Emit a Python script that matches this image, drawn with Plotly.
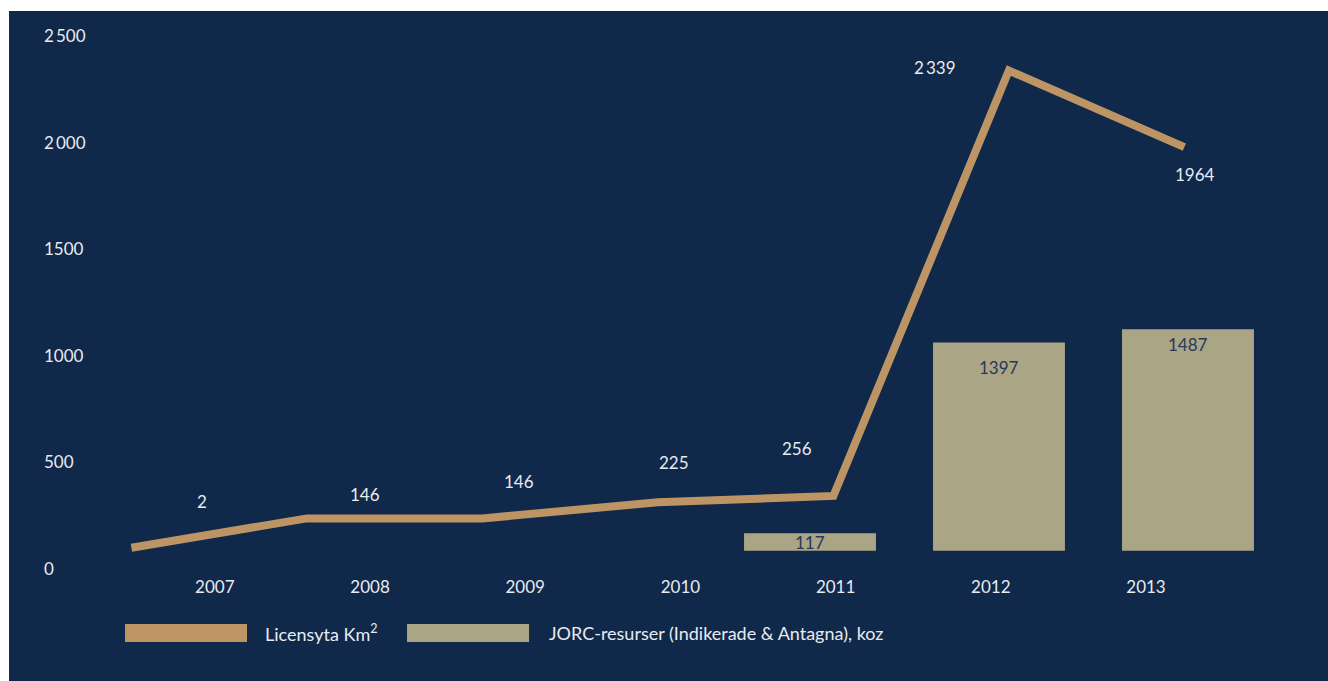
import plotly.graph_objects as go

# ---- data ----
years = [2007, 2008, 2009, 2010, 2011, 2012, 2013]
year_labels = ["2007", "2008", "2009", "2010", "2011", "2012", "2013"]
licens_km2 = [2, 146, 146, 225, 256, 2339, 1964]
licens_labels = ["2", "146", "146", "225", "256", "2\u2009339", "1964"]
jorc_years = [2011, 2012, 2013]
jorc_koz = [117, 1397, 1487]
jorc_labels = ["117", "1397", "1487"]
y_ticks = [0, 500, 1000, 1500, 2000, 2500]
y_tick_labels = ["0", "500", "1000", "1500", "2\u2009000", "2\u2009500"]

# ---- style ----
NAVY = "#10284a"
GOLD = "#bd9565"
KHAKI = "#aaa585"
TXT = "#e8ebf0"
BARTXT = "#26395a"
FONT = "Lato"

line_label_shift = [(71, 46), (58, 24), (37, 37), (16, 40), (-36, 47), (-74, 3), (11, -27)]
bar_label_shift = [-9, -25, -15]

fig = go.Figure()

# empty trace that only registers the visible tick axes (x, y)
fig.add_trace(go.Scatter(x=[], y=[], xaxis="x", yaxis="y", showlegend=False, hoverinfo="skip"))

fig.add_trace(go.Bar(
    x=jorc_years, y=jorc_koz, xaxis="x3", yaxis="y3",
    width=0.698, marker=dict(color=KHAKI, line=dict(width=0)),
    name="JORC-resurser (Indikerade & Antagna), koz", hoverinfo="x+y",
))
fig.add_trace(go.Scatter(
    x=years, y=licens_km2, xaxis="x2", yaxis="y2", mode="lines",
    line=dict(color=GOLD, width=8), name="Licensyta Km²", hoverinfo="x+y",
))

annotations = []
for yr, v, lab, (dx, dy) in zip(years, licens_km2, licens_labels, line_label_shift):
    annotations.append(dict(x=yr, y=v, xref="x2", yref="y2", text=lab, showarrow=False,
                            xshift=dx, yshift=dy, font=dict(family=FONT, size=17, color=TXT)))
for yr, v, lab, dy in zip(jorc_years, jorc_koz, jorc_labels, bar_label_shift):
    annotations.append(dict(x=yr, y=v, xref="x3", yref="y3", text=lab, showarrow=False,
                            yshift=dy, font=dict(family=FONT, size=17, color=BARTXT)))

# legend drawn as swatches + text
annotations.append(dict(x=0.1813, y=-0.1045, xref="paper", yref="paper", xanchor="left",
                        yanchor="middle", showarrow=False, text="Licensyta Km<sup>2</sup>",
                        font=dict(family=FONT, size=18, color=TXT)))
annotations.append(dict(x=0.4122, y=-0.1045, xref="paper", yref="paper", xanchor="left",
                        yanchor="middle", showarrow=False,
                        text="JORC-resurser (Indikerade &amp; Antagna), koz",
                        font=dict(family=FONT, size=18, color=TXT)))

shapes = [
    dict(type="rect", xref="paper", yref="paper", x0=-0.0252, x1=1.07, y0=-0.2, y1=1.0162,
         fillcolor=NAVY, line=dict(width=0), layer="below"),
    dict(type="rect", xref="paper", yref="paper", x0=0.0691, x1=0.1683, y0=-0.1207, y1=-0.0883,
         fillcolor=GOLD, line=dict(width=0), layer="above"),
    dict(type="rect", xref="paper", yref="paper", x0=0.2984, x1=0.3976, y0=-0.1207, y1=-0.0883,
         fillcolor=KHAKI, line=dict(width=0), layer="above"),
]

hidden = dict(visible=False, showgrid=False, zeroline=False, fixedrange=True)

fig.update_layout(
    width=1328, height=681,
    margin=dict(l=40, r=58, t=20, b=106, autoexpand=False),
    paper_bgcolor="white", plot_bgcolor="rgba(0,0,0,0)",
    showlegend=False,
    font=dict(family=FONT, size=17, color=TXT),
    xaxis=dict(domain=[0.06504, 1], anchor="y", range=[2006.389, 2013.799],
               tickvals=years, ticktext=year_labels, showgrid=False, zeroline=False,
               showline=False, ticks="", tickfont=dict(family=FONT, size=17, color=TXT)),
    yaxis=dict(anchor="free", position=0, side="right", range=[-28.2, 2577.4],
               tickvals=y_ticks, ticktext=y_tick_labels, showgrid=False, zeroline=False,
               showline=False, ticks="", ticklabelstandoff=3,
               tickfont=dict(family=FONT, size=17, color=TXT)),
    xaxis2=dict(overlaying="x", range=[2006.935, 2013.488], **hidden),
    yaxis2=dict(overlaying="y", range=[-131.2, 2586.7], **hidden),
    xaxis3=dict(overlaying="x", range=[2007.349, 2013.434], **hidden),
    yaxis3=dict(overlaying="y", range=[-163.1, 3561.7], **hidden),
    annotations=annotations,
    shapes=shapes,
)

fig.write_html(
    "out.html",
    config={"displayModeBar": False},
    post_script="document.body.style.margin='0';document.body.style.overflow='hidden';",
)
